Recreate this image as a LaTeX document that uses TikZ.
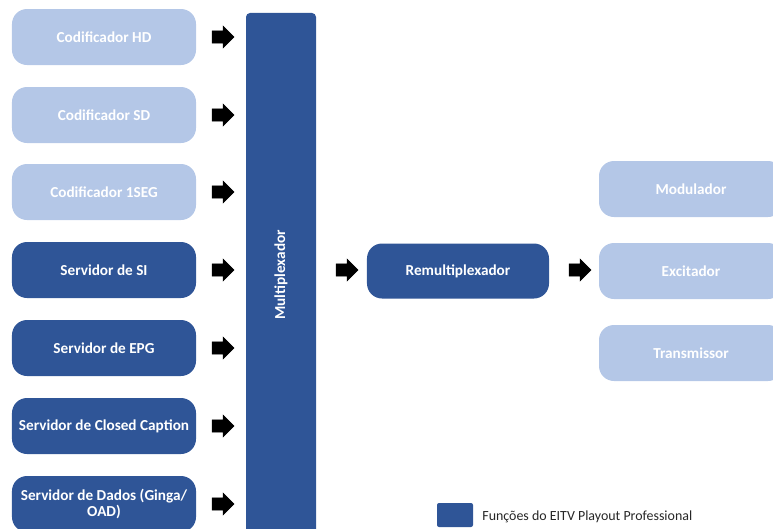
\documentclass[tikz,border=0pt]{standalone}
\usepackage{fontspec}
\setmainfont{Carlito}
\usepackage{xcolor}
\usepackage{tikz}
\usetikzlibrary{shapes,arrows,positioning,calc}

\definecolor{eitvdark}{HTML}{2F5597}
\definecolor{eitvlight}{HTML}{B4C7E7}
\definecolor{legtext}{HTML}{262626}

\begin{document}
\begin{tikzpicture}[x=0.03cm, y=-0.03cm,
    box/.style={rounded corners=0.45cm, minimum width=5.52cm, minimum height=1.68cm,
        align=center, text=white, font=\fontsize{13}{14.5}\selectfont\bfseries},
    darkbox/.style={box, fill=eitvdark},
    lightbox/.style={box, fill=eitvlight},
    blockarrow/.style={single arrow, fill=black, draw=black, minimum width=0.66cm,
        minimum height=0.66cm, single arrow head extend=0.14cm, inner sep=0.17cm}]
    \useasboundingbox (0, 0) rectangle (773, 529);

    % sources
    \node [lightbox] (hd) at (104, 37) {Codificador HD};
    \node [lightbox] (sd) at (104, 115) {Codificador SD};
    \node [lightbox] (oneseg) at (104, 192) {Codificador 1SEG};
    \node [darkbox] (si) at (104, 270) {Servidor de SI};
    \node [darkbox] (epg) at (104, 348) {Servidor de EPG};
    \node [darkbox] (cc) at (104, 426) {Servidor de Closed Caption};
    \node [darkbox] (dados) at (104, 504) {Servidor de Dados (Ginga/\\OAD)};

    % multiplexador
    \node [fill=eitvdark, rounded corners=0.12cm, minimum width=15.72cm, minimum height=2.1cm,
        text=white, font=\fontsize{13}{14.5}\selectfont\bfseries, rotate=90] (mux) at (281, 275) {Multiplexador};

    \foreach \src/\y in {hd/37, sd/115, oneseg/192, si/270, epg/348, cc/426, dados/504}
        \node [blockarrow] (arr-\src) at (220, \y) {};

    \node [blockarrow] (arr-mux) at (344, 270) {};
    \node [darkbox, minimum width=5.46cm, minimum height=1.65cm] (remux) at (458, 271) {Remultiplexador};
    \node [blockarrow] (arr-remux) at (577, 270) {};

    % saida
    \node [lightbox] (mod) at (691, 189) {Modulador};
    \node [lightbox] (exc) at (691, 271) {Excitador};
    \node [lightbox] (tx) at (691, 353) {Transmissor};

    % legenda
    \node [fill=eitvdark, rounded corners=0.06cm, minimum width=1.08cm, minimum height=0.72cm] (legbox) at (455, 515) {};
    \node [right=0.15cm of legbox, text=legtext, font=\fontsize{11.9}{13}\selectfont, yshift=-0.05cm] (legtext) {Funções do EITV Playout Professional};
\end{tikzpicture}
\end{document}
